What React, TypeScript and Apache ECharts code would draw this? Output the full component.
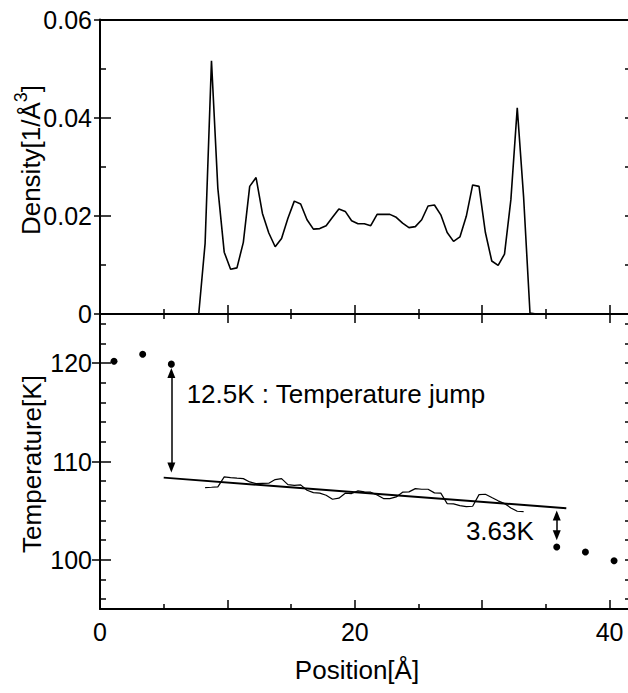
import React, { useEffect, useRef } from "react";
import * as echarts from "echarts";

// ---------- data ----------
const densityPos = [
  7.75, 8.25, 8.75, 9.25, 9.75, 10.25, 10.75, 11.25, 11.75, 12.25, 12.75, 13.25, 13.75, 14.25,
  14.75, 15.25, 15.75, 16.25, 16.75, 17.25, 17.75, 18.25, 18.75, 19.25, 19.75, 20.25, 20.75,
  21.25, 21.75, 22.25, 22.75, 23.25, 23.75, 24.25, 24.75, 25.25, 25.75, 26.25, 26.75, 27.25,
  27.75, 28.25, 28.75, 29.25, 29.75, 30.25, 30.75, 31.25, 31.75, 32.25, 32.75, 33.25, 33.75, 34.25,
];
const densityVal = [
  0, 0.0144, 0.0516, 0.0256, 0.0126, 0.0091, 0.0094, 0.0146, 0.026, 0.0278, 0.0205, 0.0165,
  0.0137, 0.0154, 0.0195, 0.023, 0.0224, 0.0192, 0.0173, 0.0174, 0.018, 0.0197, 0.0214, 0.0209,
  0.019, 0.0184, 0.0184, 0.018, 0.0203, 0.0203, 0.0203, 0.0197, 0.0185, 0.0176, 0.0178, 0.0192,
  0.022, 0.0222, 0.0202, 0.0166, 0.0148, 0.0157, 0.0199, 0.0263, 0.026, 0.0166, 0.0108, 0.0099,
  0.0122, 0.0233, 0.042, 0.0238, 0.0002, 0,
];

const profilePos = [
  8.25, 8.75, 9.25, 9.75, 10.25, 10.75, 11.25, 11.75, 12.25, 12.75, 13.25, 13.75, 14.25, 14.75,
  15.25, 15.75, 16.25, 16.75, 17.25, 17.75, 18.25, 18.75, 19.25, 19.75, 20.25, 20.75, 21.25,
  21.75, 22.25, 22.75, 23.25, 23.75, 24.25, 24.75, 25.25, 25.75, 26.25, 26.75, 27.25, 27.75,
  28.25, 28.75, 29.25, 29.75, 30.25, 30.75, 31.25, 31.75, 32.25, 32.75, 33.25,
];
const profileTemp = [
  107.35, 107.38, 107.42, 108.43, 108.36, 108.3, 108.26, 107.92, 107.75, 107.77, 107.79, 108.16,
  108.26, 107.65, 107.58, 107.62, 107.08, 106.84, 106.78, 106.57, 106.16, 106.27, 106.78, 106.74,
  107.01, 106.91, 106.88, 106.6, 106.23, 106.23, 106.4, 106.88, 106.91, 107.24, 107.18, 107.18,
  106.81, 106.78, 105.72, 105.69, 105.51, 105.41, 105.45, 106.63, 106.67, 106.33, 106.0, 105.72,
  105.28, 104.94, 104.9,
];

const reservoirPos = [1.1, 3.35, 5.6, 35.85, 38.1, 40.35];
const reservoirTemp = [120.2, 120.9, 119.9, 101.3, 100.8, 99.9];

const fitPos = [5.0, 36.6];
const fitTemp = [108.36, 105.25];

const arrowPos = [5.6, 35.85];
const arrowTop = [119.0, 104.5];
const arrowBottom = [109.4, 102.5];

const noteText = ["12.5K : Temperature jump", "3.63K"];
const notePos = [6.8, 28.72];
const noteTemp = [116.9, 102.9];

const xTicksMajor = [10, 20, 30, 40];
const xTicksMinor = [5, 15, 25, 35];
const xLabels = [0, 20, 40];
const tempLabels = [100, 110, 120];
const tempMinor = [96, 98, 102, 104, 106, 108, 112, 114, 116, 118, 122, 124];
const tempRightTicks = [96, 98, 100, 102, 104, 106, 108, 110, 112, 114, 116, 118, 120, 122, 124];

const X_MIN = 0;
const X_MAX = 41.6;
const D_MIN = 0;
const D_MAX = 0.06;
const T_MIN = 95;
const T_MAX = 125;

// ---------- styling helpers ----------
const FONT = "Liberation Sans, Arial, Helvetica, sans-serif";
const BLACK = "#000";
const lineStyle = { color: BLACK, width: 2 };
const tickStyle = { color: BLACK, width: 1.5 };

function zip(a: number[], b: number[]) {
  return a.map((v, i) => [v, b[i]]);
}

function buildOption() {
  const rect = { left: 100, width: 530, outerBoundsMode: "none", containLabel: false };
  const topRect = { ...rect, top: 19.5, height: 294.5 };
  const botRect = { ...rect, top: 314, height: 295 };

  const xBase = (grid: number, position: string, extra: any) => ({
    type: "value",
    gridIndex: grid,
    position,
    min: X_MIN,
    max: X_MAX,
    splitLine: { show: false },
    axisLabel: { show: false },
    axisLine: { show: true, onZero: false, lineStyle },
    axisTick: { show: false },
    ...extra,
  });

  const yBase = (grid: number, position: string, min: number, max: number, extra: any) => ({
    type: "value",
    gridIndex: grid,
    position,
    min,
    max,
    splitLine: { show: false },
    axisLabel: { show: false },
    axisLine: { show: true, onZero: false, lineStyle },
    axisTick: { show: false },
    ...extra,
  });

  const labelStyle = { fontSize: 25, fontFamily: FONT, color: BLACK };

  return {
    animation: false,
    backgroundColor: "#fff",
    grid: [topRect, botRect, topRect, botRect, botRect],
    xAxis: [
      xBase(0, "bottom", {
        axisTick: { show: true, inside: true, length: 9, customValues: xTicksMajor, lineStyle: tickStyle },
      }),
      xBase(0, "top", {}),
      xBase(1, "bottom", {
        axisTick: { show: true, inside: true, length: 9, customValues: xTicksMajor, lineStyle: tickStyle },
        axisLabel: { show: true, customValues: xLabels, margin: 10, ...labelStyle },
      }),
      xBase(1, "top", {
        axisTick: { show: true, inside: true, length: 9, customValues: xTicksMajor, lineStyle: tickStyle },
      }),
      xBase(2, "bottom", {
        axisLine: { show: false, onZero: false },
        axisTick: { show: true, inside: true, length: 5, customValues: xTicksMinor, lineStyle: tickStyle },
      }),
      xBase(3, "bottom", {
        axisLine: { show: false, onZero: false },
        axisTick: { show: true, inside: true, length: 5, customValues: xTicksMinor, lineStyle: tickStyle },
      }),
      xBase(3, "top", {
        axisLine: { show: false, onZero: false },
        axisTick: { show: true, inside: true, length: 5, customValues: xTicksMinor, lineStyle: tickStyle },
      }),
      xBase(4, "bottom", { show: false }),
    ],
    yAxis: [
      yBase(0, "left", D_MIN, D_MAX, {
        interval: 0.02,
        axisTick: { show: true, inside: true, length: 11, lineStyle: tickStyle },
        minorTick: { show: true, splitNumber: 2, length: 6, lineStyle: tickStyle },
        axisLabel: {
          show: true,
          margin: 8,
          showMinLabel: true,
          showMaxLabel: true,
          formatter: (v: number) => (v === 0 ? "0" : v.toFixed(2)),
          ...labelStyle,
        },
      }),
      yBase(0, "right", D_MIN, D_MAX, {
        interval: 0.02,
        axisTick: { show: true, inside: true, length: 5, lineStyle: tickStyle },
        minorTick: { show: true, splitNumber: 2, length: 5, lineStyle: tickStyle },
      }),
      yBase(1, "left", T_MIN, T_MAX, {
        axisTick: { show: true, inside: true, length: 11, customValues: tempLabels, lineStyle: tickStyle },
        axisLabel: { show: true, margin: 8, customValues: tempLabels, ...labelStyle },
      }),
      yBase(1, "right", T_MIN, T_MAX, {
        axisTick: { show: true, inside: true, length: 5, customValues: tempRightTicks, lineStyle: tickStyle },
      }),
      yBase(2, "left", D_MIN, D_MAX, {
        interval: 0.02,
        axisLine: { show: false, onZero: false },
        axisTick: { show: true, inside: false, length: 6, lineStyle: tickStyle },
      }),
      yBase(3, "left", T_MIN, T_MAX, {
        axisLine: { show: false, onZero: false },
        axisTick: { show: true, inside: false, length: 8, customValues: tempLabels, lineStyle: tickStyle },
      }),
      yBase(4, "left", T_MIN, T_MAX, {
        axisLine: { show: false, onZero: false },
        axisTick: { show: true, inside: true, length: 6, customValues: tempMinor, lineStyle: tickStyle },
      }),
    ],
    series: [
      {
        name: "Density",
        type: "line",
        xAxisIndex: 0,
        yAxisIndex: 0,
        data: zip(densityPos, densityVal),
        symbol: "none",
        lineStyle: { color: BLACK, width: 1.6 },
        silent: true,
      },
      {
        name: "Temperature profile",
        type: "line",
        xAxisIndex: 2,
        yAxisIndex: 2,
        data: zip(profilePos, profileTemp),
        symbol: "none",
        lineStyle: { color: BLACK, width: 1.2 },
        silent: true,
      },
      {
        name: "Linear fit",
        type: "line",
        xAxisIndex: 2,
        yAxisIndex: 2,
        data: zip(fitPos, fitTemp),
        symbol: "none",
        lineStyle: { color: BLACK, width: 2 },
        silent: true,
      },
      {
        name: "Reservoir",
        type: "scatter",
        xAxisIndex: 2,
        yAxisIndex: 2,
        data: zip(reservoirPos, reservoirTemp),
        symbol: "circle",
        symbolSize: 7,
        itemStyle: { color: BLACK, opacity: 1 },
        silent: true,
        markLine: {
          silent: true,
          symbol: ["triangle", "triangle"],
          symbolSize: [8, 10],
          label: { show: false },
          lineStyle: { color: BLACK, width: 1.5, type: "solid", opacity: 1 },
          itemStyle: { color: BLACK, opacity: 1 },
          data: arrowPos.map((p, i) => [
            { coord: [p, arrowTop[i]] },
            { coord: [p, arrowBottom[i]] },
          ]),
        },
      },
      {
        name: "Notes",
        type: "scatter",
        xAxisIndex: 2,
        yAxisIndex: 2,
        symbolSize: 0,
        silent: true,
        itemStyle: { opacity: 1, color: BLACK },
        data: notePos.map((p, i) => ({ value: [p, noteTemp[i]], name: noteText[i] })),
        label: {
          show: true,
          position: "right",
          distance: 0,
          formatter: "{b}",
          fontSize: 26,
          fontFamily: FONT,
          color: BLACK,
          opacity: 1,
        },
      },
    ],
    graphic: [
      {
        type: "text",
        x: 28,
        y: 160,
        rotation: Math.PI / 2,
        style: {
          text: "{a|Density[1/Å}{s|3}{a|]}",
          fontSize: 26,
          fontFamily: FONT,
          fill: BLACK,
          align: "center",
          verticalAlign: "middle",
          rich: {
            a: { fontSize: 26, fontFamily: FONT, fill: BLACK, lineHeight: 32, verticalAlign: "bottom" },
            s: { fontSize: 18, fontFamily: FONT, fill: BLACK, lineHeight: 32, verticalAlign: "top" },
          },
        },
      },
      {
        type: "text",
        x: 32,
        y: 464,
        rotation: Math.PI / 2,
        style: {
          text: "Temperature[K]",
          fontSize: 26,
          fontFamily: FONT,
          fill: BLACK,
          align: "center",
          verticalAlign: "middle",
        },
      },
      {
        type: "text",
        x: 357,
        y: 670,
        style: {
          text: "Position[Å]",
          fontSize: 26,
          fontFamily: FONT,
          fill: BLACK,
          align: "center",
          verticalAlign: "middle",
        },
      },
    ],
  };
}

export default function App() {
  const ref = useRef<HTMLDivElement>(null);
  useEffect(() => {
    if (!ref.current) return;
    const chart = echarts.init(ref.current, null, { renderer: "svg" });
    chart.setOption(buildOption() as any);
    return () => chart.dispose();
  }, []);
  return (
    <div
      ref={ref}
      style={{ position: "fixed", left: 0, top: 0, width: 628, height: 693, background: "#fff", overflow: "hidden" }}
    />
  );
}
